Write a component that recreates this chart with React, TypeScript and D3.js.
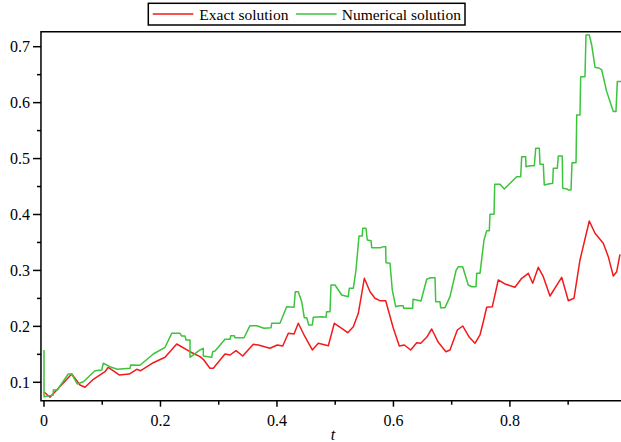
import React from "react";
import * as d3 from "d3";

const exactT = [0, 0.0103, 0.0476, 0.0618, 0.0704, 0.0847, 0.1047, 0.1104, 0.1291, 0.1463, 0.1592, 0.166, 0.1877, 0.2078, 0.2279, 0.2507, 0.2679, 0.2735, 0.285, 0.2907, 0.3108, 0.3194, 0.3297, 0.3412, 0.3594, 0.368, 0.388, 0.4006, 0.4099, 0.4195, 0.4293, 0.4366, 0.4481, 0.4607, 0.471, 0.4882, 0.4985, 0.5094, 0.5215, 0.5311, 0.5397, 0.55, 0.5598, 0.5683, 0.5769, 0.5867, 0.5998, 0.6101, 0.6187, 0.6296, 0.64, 0.6468, 0.6571, 0.6657, 0.677, 0.6902, 0.6971, 0.7097, 0.7189, 0.7303, 0.74, 0.7486, 0.7543, 0.7601, 0.7698, 0.78, 0.7915, 0.8087, 0.8202, 0.8316, 0.8391, 0.8487, 0.8573, 0.8688, 0.8889, 0.9003, 0.91, 0.9203, 0.9363, 0.9461, 0.9603, 0.9689, 0.9775, 0.9833, 0.989];
const exactV = [0.0827, 0.0732, 0.1148, 0.0952, 0.0911, 0.1054, 0.119, 0.1268, 0.1131, 0.1148, 0.1232, 0.1207, 0.135, 0.1447, 0.1685, 0.1547, 0.1458, 0.1411, 0.125, 0.125, 0.1506, 0.1488, 0.1565, 0.147, 0.1679, 0.1667, 0.1608, 0.1667, 0.1649, 0.1876, 0.1864, 0.2055, 0.1815, 0.1578, 0.1697, 0.1654, 0.2055, 0.1976, 0.1887, 0.1994, 0.2234, 0.2859, 0.262, 0.2502, 0.2459, 0.2459, 0.1966, 0.1649, 0.1667, 0.1578, 0.1708, 0.1697, 0.1805, 0.1953, 0.1715, 0.1547, 0.1578, 0.1935, 0.2007, 0.1805, 0.1697, 0.1846, 0.2083, 0.2341, 0.2352, 0.2829, 0.2758, 0.2699, 0.2859, 0.2949, 0.277, 0.3056, 0.2888, 0.2543, 0.2877, 0.2459, 0.2502, 0.3187, 0.3884, 0.3664, 0.3485, 0.3246, 0.2901, 0.2977, 0.3289];

const numT = [0, 0, 0.016, 0.016, 0.0228, 0.0417, 0.0476, 0.0572, 0.0675, 0.0876, 0.0991, 0.1018, 0.1133, 0.1259, 0.1477, 0.1489, 0.1648, 0.1877, 0.2078, 0.2193, 0.2335, 0.2364, 0.2421, 0.2438, 0.2507, 0.2507, 0.2679, 0.2735, 0.2735, 0.2879, 0.2897, 0.2936, 0.3108, 0.3194, 0.3206, 0.3268, 0.328, 0.3434, 0.3537, 0.3652, 0.3777, 0.3898, 0.391, 0.4052, 0.4167, 0.4293, 0.4315, 0.4366, 0.4425, 0.4469, 0.4511, 0.4545, 0.4607, 0.4624, 0.4768, 0.4842, 0.4854, 0.4911, 0.4928, 0.4997, 0.5112, 0.5225, 0.5242, 0.5311, 0.5357, 0.5409, 0.5465, 0.5472, 0.5529, 0.5551, 0.5615, 0.5627, 0.5781, 0.5826, 0.5867, 0.5872, 0.5941, 0.598, 0.6039, 0.6101, 0.6169, 0.6176, 0.6331, 0.6336, 0.6399, 0.6473, 0.6571, 0.664, 0.6714, 0.6726, 0.6799, 0.6811, 0.6885, 0.6971, 0.7074, 0.7114, 0.7189, 0.7285, 0.7344, 0.7418, 0.743, 0.7486, 0.7555, 0.7601, 0.7646, 0.7658, 0.7727, 0.7739, 0.783, 0.7903, 0.8116, 0.8185, 0.8202, 0.8271, 0.8276, 0.8345, 0.8419, 0.8443, 0.8505, 0.8516, 0.8573, 0.859, 0.8659, 0.8735, 0.8745, 0.8814, 0.8831, 0.8899, 0.8906, 0.8985, 0.9002, 0.9049, 0.9066, 0.9135, 0.9147, 0.9203, 0.9215, 0.9289, 0.9306, 0.9363, 0.9404, 0.9461, 0.9535, 0.9576, 0.9662, 0.9775, 0.9821, 0.9844, 0.9907];
const numV = [0.1578, 0.0743, 0.0773, 0.0862, 0.0862, 0.1148, 0.1148, 0.097, 0.1011, 0.1207, 0.122, 0.134, 0.1279, 0.1232, 0.125, 0.1309, 0.1304, 0.1506, 0.1626, 0.1876, 0.1876, 0.1828, 0.1828, 0.1756, 0.1756, 0.1447, 0.1578, 0.1608, 0.147, 0.1447, 0.1547, 0.156, 0.1769, 0.1769, 0.1833, 0.1833, 0.1797, 0.1797, 0.2012, 0.2012, 0.1966, 0.1976, 0.2055, 0.2055, 0.2352, 0.2341, 0.262, 0.262, 0.2441, 0.2155, 0.2155, 0.2025, 0.2025, 0.2162, 0.2173, 0.2162, 0.2262, 0.2262, 0.274, 0.274, 0.2561, 0.2531, 0.2681, 0.2681, 0.3008, 0.3616, 0.3616, 0.3754, 0.3754, 0.3544, 0.3532, 0.3407, 0.3407, 0.3425, 0.3425, 0.3138, 0.3128, 0.265, 0.2352, 0.237, 0.237, 0.2323, 0.2323, 0.2484, 0.2472, 0.2454, 0.2842, 0.287, 0.287, 0.2441, 0.2441, 0.2334, 0.2334, 0.2531, 0.2995, 0.3067, 0.3067, 0.274, 0.2709, 0.2709, 0.2949, 0.2949, 0.3544, 0.3711, 0.3711, 0.4004, 0.4004, 0.454, 0.454, 0.4456, 0.4676, 0.4676, 0.5034, 0.5034, 0.4855, 0.4873, 0.4873, 0.5184, 0.5184, 0.4898, 0.4898, 0.4528, 0.4546, 0.4558, 0.4827, 0.4827, 0.5046, 0.5046, 0.4469, 0.4456, 0.4438, 0.4438, 0.4926, 0.4926, 0.5779, 0.5779, 0.6464, 0.6464, 0.721, 0.721, 0.7031, 0.6633, 0.6615, 0.6584, 0.6197, 0.584, 0.584, 0.6376, 0.6376];

const xMajor = [0, 0.2, 0.4, 0.6, 0.8];
const xMinor = [0.1, 0.3, 0.5, 0.7, 0.9];
const yMajor = [0.1, 0.2, 0.3, 0.4, 0.5, 0.6, 0.7];
const yMinor = [0.15, 0.25, 0.35, 0.45, 0.55, 0.65];

const seriesNames = ["Exact solution", "Numerical solution"];
const seriesColors = ["#f21a1a", "#3cc43c"];

const FONT = "Liberation Serif, Times New Roman, DejaVu Serif, serif";

export default function App() {
  const W = 621, H = 442;
  const x = d3.scaleLinear().domain([0, 1]).range([44, 626.4]);
  const y = d3.scaleLinear().domain([0.1, 0.7]).range([382.3, 46.7]);
  const x0 = x(-0.0052);
  const yTop = y(0.7268);
  const yBot = y(0.0671);
  const right = W + 10;
  const line = d3.line<[number, number]>().x(d => x(d[0])).y(d => y(d[1]));
  const exactPts = exactT.map((t, i) => [t, exactV[i]] as [number, number]);
  const numPts = numT.map((t, i) => [t, numV[i]] as [number, number]);
  const ts = { fontFamily: FONT } as React.CSSProperties;
  return (
    <svg width={W} height={H} style={{ position: "absolute", left: 0, top: 0, background: "#fff" }}>
      <defs>
        <clipPath id="plotclip">
          <rect x={x0} y={yTop} width={right - x0} height={yBot - yTop} />
        </clipPath>
      </defs>
      <g clipPath="url(#plotclip)">
        <path d={line(exactPts) || ""} fill="none" stroke={seriesColors[0]} strokeWidth={1.5} strokeLinejoin="round" />
        <path d={line(numPts) || ""} fill="none" stroke={seriesColors[1]} strokeWidth={1.5} strokeLinejoin="round" />
      </g>
      <path d={`M${right},${yTop}H${x0}V${yBot}H${right}`} fill="none" stroke="#000" strokeWidth={1.5} />
      {yMajor.map(v => (
        <g key={"ym" + v}>
          <line x1={x0 - 8} x2={x0} y1={y(v)} y2={y(v)} stroke="#000" strokeWidth={1.5} />
          <text x={30} y={y(v) + 5.5} textAnchor="end" fontSize={16} style={ts}>{v.toFixed(1)}</text>
        </g>
      ))}
      {yMinor.map(v => (
        <line key={"yn" + v} x1={x0 - 4} x2={x0} y1={y(v)} y2={y(v)} stroke="#000" strokeWidth={1.5} />
      ))}
      {xMajor.map(v => (
        <g key={"xm" + v}>
          <line x1={x(v)} x2={x(v)} y1={yBot} y2={yBot + 6} stroke="#000" strokeWidth={1.5} />
          <text x={x(v)} y={425.5} textAnchor="middle" fontSize={16} style={ts}>{v === 0 ? "0" : v.toFixed(1)}</text>
        </g>
      ))}
      {xMinor.map(v => (
        <line key={"xn" + v} x1={x(v)} x2={x(v)} y1={yBot} y2={yBot + 4} stroke="#000" strokeWidth={1.5} />
      ))}
      <text x={333} y={439.5} textAnchor="middle" fontSize={16} fontStyle="italic" style={ts}>t</text>
      <rect x={148.3} y={3.3} width={316.7} height={21.7} fill="#fff" stroke="#000" strokeWidth={1.5} />
      <line x1={152.7} x2={193.3} y1={14} y2={14} stroke={seriesColors[0]} strokeWidth={1.5} />
      <text x={199.3} y={19.5} fontSize={15.5} style={ts}>{seriesNames[0]}</text>
      <line x1={296} x2={336.7} y1={14} y2={14} stroke={seriesColors[1]} strokeWidth={1.5} />
      <text x={341.7} y={19.5} fontSize={15.5} style={ts}>{seriesNames[1]}</text>
    </svg>
  );
}
